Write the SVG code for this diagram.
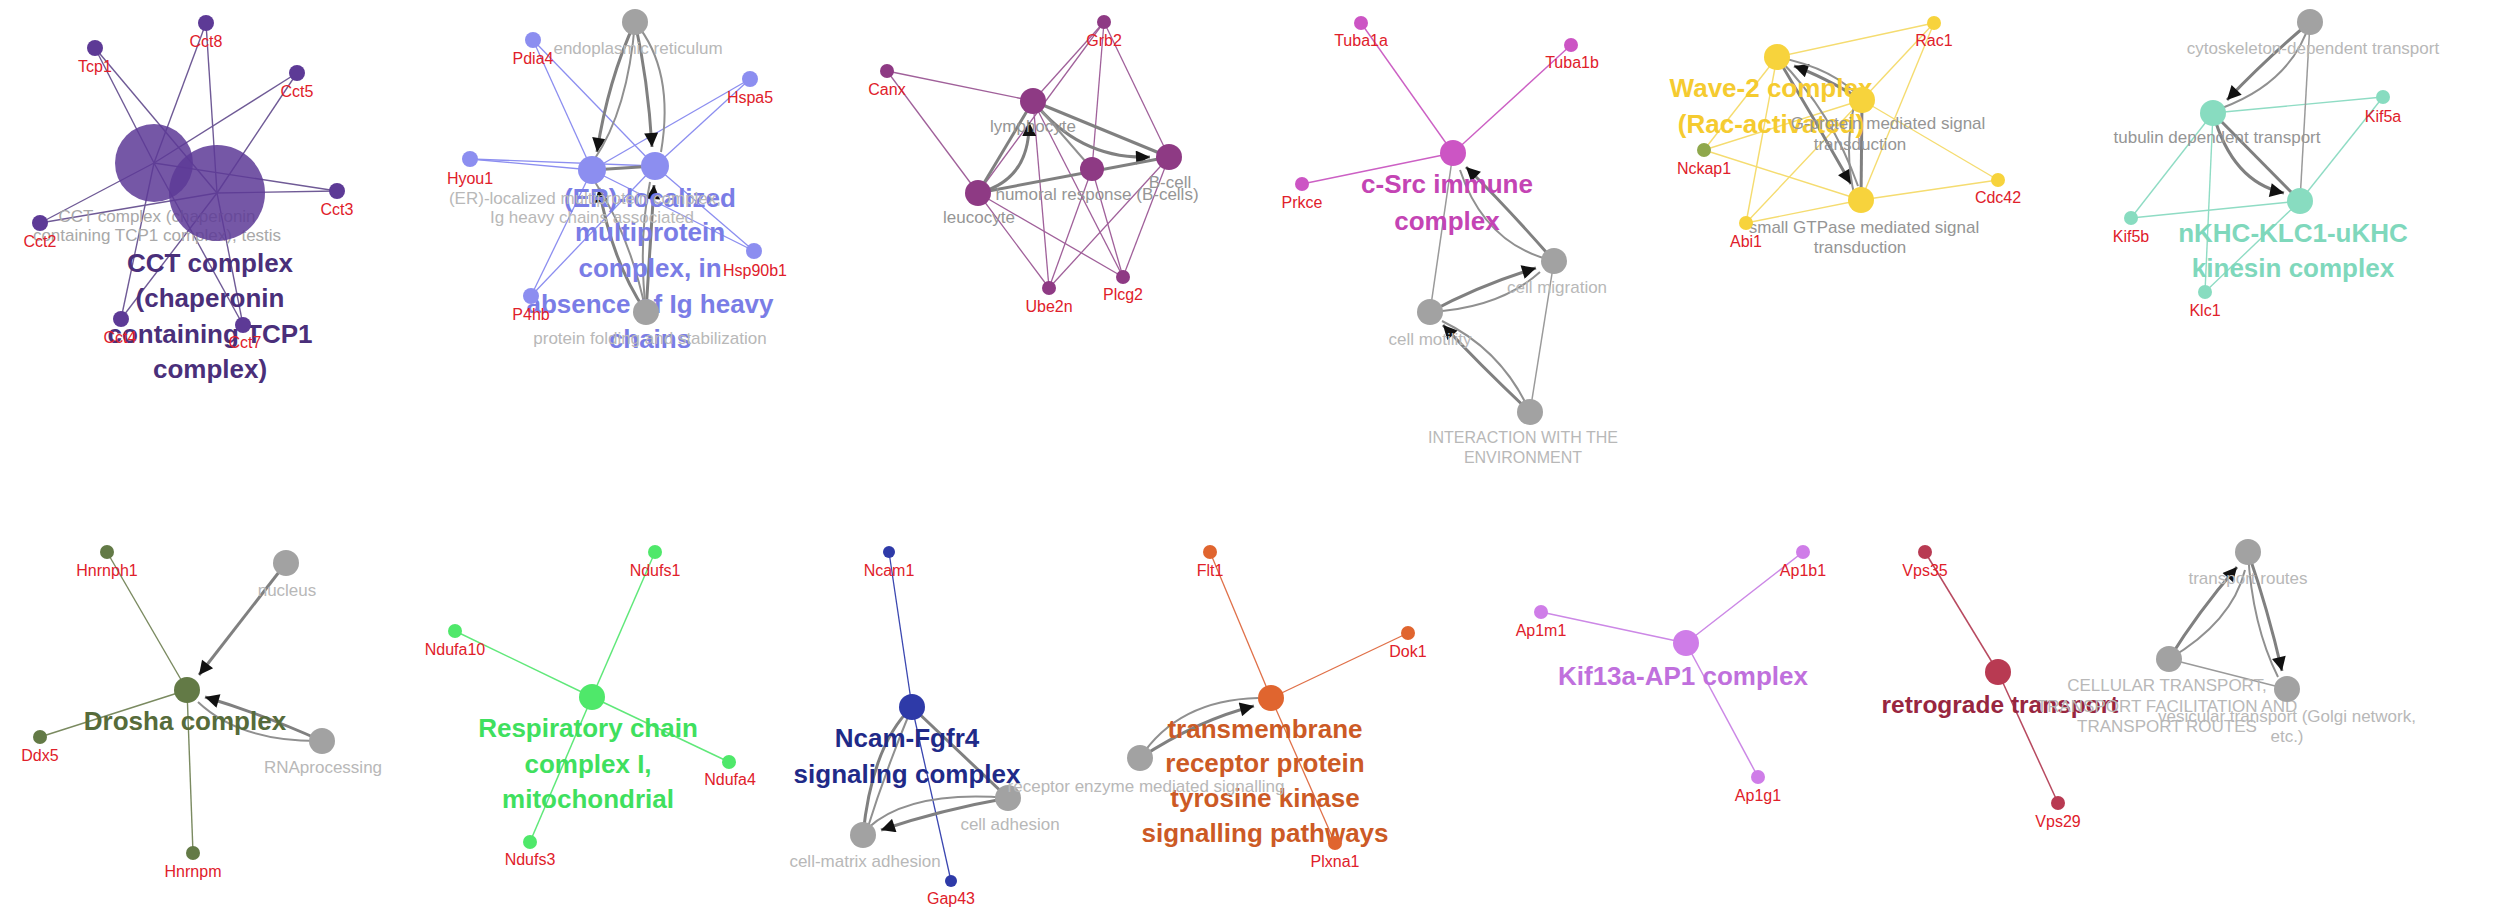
<svg xmlns="http://www.w3.org/2000/svg" width="2496" height="916" viewBox="0 0 2496 916">
<defs>
<marker id="arr" viewBox="0 0 10 10" refX="10" refY="5" markerWidth="16" markerHeight="14" markerUnits="userSpaceOnUse" orient="auto"><path d="M0,0 L10,5 L0,10 z" fill="#111"/></marker>
</defs>
<style>
text{font-family:"Liberation Sans",Arial,sans-serif;text-anchor:middle}
.g{font-size:16px;fill:#e0202a}
.t{font-size:17px;fill:#b8b8b8}
.td{font-size:17px;fill:#959595}
.big{font-size:26px;font-weight:bold}
.gn{fill:#a2a2a2}
.ea{stroke:#808080;stroke-width:3;fill:none}
.ec{stroke:#909090;stroke-width:2;fill:none}
.et{stroke:#9a9a9a;stroke-width:1.5;fill:none}
.p1 line{stroke:#6f5a96;stroke-width:1.4}
.p2 line{stroke:#8c8ef0;stroke-width:1.3}
.p3 line{stroke:#a0609a;stroke-width:1.3}
.p4 line{stroke:#cc60c4;stroke-width:1.4}
.p5 line{stroke:#f5dc70;stroke-width:1.4}
.p6 line{stroke:#8fdcc4;stroke-width:1.4}
.p7 line{stroke:#7a8a60;stroke-width:1.4}
.p8 line{stroke:#60e87a;stroke-width:1.5}
.p9 line{stroke:#3a46b0;stroke-width:1.3}
.p10 line{stroke:#e07048;stroke-width:1.3}
.p11 line{stroke:#cc88e6;stroke-width:1.5}
.p12 line{stroke:#b84a60;stroke-width:1.5}
</style>
<rect width="2496" height="916" fill="#fff"/>

<g id="connectors">
<!-- panel 1 -->
<g class="p1">
<line x1="95" y1="48" x2="154" y2="163"/><line x1="95" y1="48" x2="217" y2="193"/>
<line x1="206" y1="23" x2="154" y2="163"/><line x1="206" y1="23" x2="217" y2="193"/>
<line x1="297" y1="73" x2="154" y2="163"/><line x1="297" y1="73" x2="217" y2="193"/>
<line x1="337" y1="191" x2="154" y2="163"/><line x1="337" y1="191" x2="217" y2="193"/>
<line x1="40" y1="223" x2="154" y2="163"/><line x1="40" y1="223" x2="217" y2="193"/>
<line x1="121" y1="319" x2="154" y2="163"/><line x1="121" y1="319" x2="217" y2="193"/>
<line x1="243" y1="325" x2="154" y2="163"/><line x1="243" y1="325" x2="217" y2="193"/>
</g>
<!-- panel 2 -->
<g class="p2">
<line x1="533" y1="40" x2="592" y2="170"/><line x1="533" y1="40" x2="655" y2="166"/>
<line x1="750" y1="79" x2="592" y2="170"/><line x1="750" y1="79" x2="655" y2="166"/>
<line x1="470" y1="159" x2="592" y2="170"/><line x1="470" y1="159" x2="655" y2="166"/>
<line x1="754" y1="251" x2="592" y2="170"/><line x1="754" y1="251" x2="655" y2="166"/>
<line x1="531" y1="296" x2="592" y2="170"/><line x1="531" y1="296" x2="655" y2="166"/>
</g>
<path class="ea" d="M635,22 Q608,80 597,152" marker-end="url(#arr)"/>
<path class="ec" d="M635,22 Q628,110 594,160"/>
<path class="ea" d="M635,22 Q648,80 652,147" marker-end="url(#arr)"/>
<path class="ec" d="M635,22 Q675,70 661,152"/>
<path class="ea" d="M646,312 Q612,262 599,188" marker-end="url(#arr)"/>
<path class="ec" d="M646,312 Q630,235 595,182"/>
<path class="ea" d="M646,312 Q650,250 654,185" marker-end="url(#arr)"/>
<path class="ec" d="M646,312 Q638,240 650,182"/>
<path class="ea" d="M592,170 L655,166"/>
<!-- panel 3 -->
<g class="p3">
<line x1="887" y1="71" x2="1033" y2="101"/><line x1="887" y1="71" x2="978" y2="193"/>
<line x1="1104" y1="22" x2="1033" y2="101"/><line x1="1104" y1="22" x2="978" y2="193"/><line x1="1104" y1="22" x2="1092" y2="169"/><line x1="1104" y1="22" x2="1169" y2="157"/>
<line x1="1049" y1="288" x2="978" y2="193"/><line x1="1049" y1="288" x2="1033" y2="101"/><line x1="1049" y1="288" x2="1092" y2="169"/><line x1="1049" y1="288" x2="1169" y2="157"/>
<line x1="1123" y1="277" x2="978" y2="193"/><line x1="1123" y1="277" x2="1033" y2="101"/><line x1="1123" y1="277" x2="1092" y2="169"/><line x1="1123" y1="277" x2="1169" y2="157"/>
</g>
<path class="ea" d="M978,193 L1033,101"/>
<path class="ea" d="M978,193 Q1030,180 1029,122" marker-end="url(#arr)"/>
<path class="ea" d="M1033,101 L1169,157"/>
<path class="ea" d="M1033,101 Q1080,160 1150,157" marker-end="url(#arr)"/>
<path class="ea" d="M978,193 L1169,157"/>
<path class="ec" d="M1033,101 L1092,169"/>
<!-- panel 4 -->
<g class="p4">
<line x1="1361" y1="23" x2="1453" y2="153"/><line x1="1571" y1="45" x2="1453" y2="153"/><line x1="1302" y1="184" x2="1453" y2="153"/>
</g>
<path class="ea" d="M1554,261 Q1505,205 1466,167" marker-end="url(#arr)"/>
<path class="ec" d="M1554,261 Q1485,245 1460,170"/>
<path class="ea" d="M1430,312 Q1480,285 1536,268" marker-end="url(#arr)"/>
<path class="ec" d="M1430,312 Q1500,308 1540,272"/>
<path class="ea" d="M1530,412 Q1480,365 1443,325" marker-end="url(#arr)"/>
<path class="ec" d="M1530,412 Q1502,350 1442,321"/>
<path class="et" d="M1430,312 L1453,153"/>
<path class="et" d="M1530,412 L1554,261"/>
<!-- panel 5 -->
<g class="p5">
<line x1="1934" y1="23" x2="1777" y2="57"/><line x1="1934" y1="23" x2="1862" y2="100"/><line x1="1934" y1="23" x2="1861" y2="200"/>
<line x1="1704" y1="150" x2="1777" y2="57"/><line x1="1704" y1="150" x2="1862" y2="100"/><line x1="1704" y1="150" x2="1861" y2="200"/>
<line x1="1746" y1="223" x2="1777" y2="57"/><line x1="1746" y1="223" x2="1862" y2="100"/><line x1="1746" y1="223" x2="1861" y2="200"/>
<line x1="1998" y1="180" x2="1862" y2="100"/><line x1="1998" y1="180" x2="1861" y2="200"/>
</g>
<path class="ea" d="M1862,100 Q1822,76 1794,66" marker-end="url(#arr)"/>
<path class="ec" d="M1777,57 Q1835,68 1862,100"/>
<path class="ea" d="M1777,57 Q1815,120 1851,184" marker-end="url(#arr)"/>
<path class="ec" d="M1777,57 Q1832,112 1858,186"/>
<path class="ea" d="M1862,100 L1861,200"/>
<path class="ec" d="M1855,102 Q1843,150 1855,198"/>
<!-- panel 6 -->
<g class="p6">
<line x1="2383" y1="97" x2="2213" y2="113"/><line x1="2383" y1="97" x2="2300" y2="201"/>
<line x1="2131" y1="218" x2="2213" y2="113"/><line x1="2131" y1="218" x2="2300" y2="201"/>
<line x1="2205" y1="292" x2="2213" y2="113"/><line x1="2205" y1="292" x2="2300" y2="201"/>
</g>
<path class="ea" d="M2310,22 Q2265,60 2227,100" marker-end="url(#arr)"/>
<path class="ec" d="M2310,22 Q2292,82 2222,108"/>
<path class="et" d="M2310,22 L2300,201"/>
<path class="ea" d="M2213,113 L2300,201"/>
<path class="ea" d="M2213,113 Q2232,182 2284,193" marker-end="url(#arr)"/>
<!-- panel 7 -->
<g class="p7">
<line x1="107" y1="552" x2="187" y2="690"/><line x1="40" y1="737" x2="187" y2="690"/><line x1="193" y1="853" x2="187" y2="690"/>
</g>
<path class="ea" d="M286,563 L199,675" marker-end="url(#arr)"/>
<path class="ea" d="M322,741 Q262,714 205,697" marker-end="url(#arr)"/>
<path class="ec" d="M322,741 Q240,742 198,702"/>
<!-- panel 8 -->
<g class="p8">
<line x1="655" y1="552" x2="592" y2="697"/><line x1="455" y1="631" x2="592" y2="697"/><line x1="729" y1="762" x2="592" y2="697"/><line x1="530" y1="842" x2="592" y2="697"/>
</g>
<!-- panel 9 -->
<g class="p9">
<line x1="889" y1="552" x2="912" y2="707"/><line x1="951" y1="881" x2="912" y2="707"/>
</g>
<path class="ea" d="M912,707 Q872,745 863,835"/>
<path class="ec" d="M912,707 Q885,772 866,833"/>
<path class="ea" d="M912,707 L1008,798"/>
<path class="ea" d="M1008,798 Q940,810 881,830" marker-end="url(#arr)"/>
<path class="ec" d="M1008,798 Q910,790 868,828"/>
<!-- panel 10 -->
<g class="p10">
<line x1="1210" y1="552" x2="1271" y2="698"/><line x1="1408" y1="633" x2="1271" y2="698"/><line x1="1335" y1="843" x2="1271" y2="698"/>
</g>
<path class="ea" d="M1140,758 Q1198,720 1254,706" marker-end="url(#arr)"/>
<path class="ec" d="M1140,758 Q1178,700 1258,698"/>
<!-- panel 11 -->
<g class="p11">
<line x1="1803" y1="552" x2="1686" y2="643"/><line x1="1541" y1="612" x2="1686" y2="643"/><line x1="1758" y1="777" x2="1686" y2="643"/>
</g>
<!-- panel 12 -->
<g class="p12">
<line x1="1925" y1="552" x2="1998" y2="672"/><line x1="2058" y1="803" x2="1998" y2="672"/>
</g>
<path class="ea" d="M2169,659 Q2198,612 2237,567" marker-end="url(#arr)"/>
<path class="ec" d="M2169,659 Q2232,622 2245,570"/>
<path class="ea" d="M2248,552 Q2268,610 2282,671" marker-end="url(#arr)"/>
<path class="ec" d="M2248,552 Q2252,625 2278,677"/>
<path class="et" d="M2169,659 L2287,689"/>
</g>

<!-- big cluster labels -->
<g id="cluster-labels">
<text class="big" fill="#4a2f7a"><tspan x="210" y="272">CCT complex</tspan><tspan x="210" y="307">(chaperonin</tspan><tspan x="210" y="343">containing TCP1</tspan><tspan x="210" y="378">complex)</tspan></text>
<text class="big" fill="#7a7de6"><tspan x="650" y="207">(ER)-localized</tspan><tspan x="650" y="241">multiprotein</tspan><tspan x="650" y="277">complex, in</tspan><tspan x="650" y="313">absence of Ig heavy</tspan><tspan x="650" y="348">chains</tspan></text>
<text class="big" fill="#c444b4"><tspan x="1447" y="193">c-Src immune</tspan><tspan x="1447" y="230">complex</tspan></text>
<text class="big" fill="#f5cb30"><tspan x="1771" y="97">Wave-2 complex</tspan><tspan x="1771" y="133">(Rac-activated)</tspan></text>
<text class="big" fill="#7fd8bc"><tspan x="2293" y="242">nKHC-KLC1-uKHC</tspan><tspan x="2293" y="277">kinesin complex</tspan></text>
<text class="big" fill="#566b3a" x="185" y="730">Drosha complex</text>
<text class="big" fill="#3fe05e"><tspan x="588" y="737">Respiratory chain</tspan><tspan x="588" y="773">complex I,</tspan><tspan x="588" y="808">mitochondrial</tspan></text>
<text class="big" fill="#1f2a88"><tspan x="907" y="747">Ncam-Fgfr4</tspan><tspan x="907" y="783">signaling complex</tspan></text>
<text class="big" fill="#cc5a25"><tspan x="1265" y="738">transmembrane</tspan><tspan x="1265" y="772">receptor protein</tspan><tspan x="1265" y="807">tyrosine kinase</tspan><tspan x="1265" y="842">signalling pathways</tspan></text>
<text class="big" fill="#c070dd" x="1683" y="685">Kif13a-AP1 complex</text>
<text class="big" fill="#98263f" x="2000" y="713" style="font-size:24.5px">retrograde transport</text>
</g>

<!-- panel 1 nodes -->
<g id="n-cct-testis"><circle cx="154" cy="163" r="39" fill="#5d3a96" fill-opacity="0.85"/><text class="t" style="fill:#a8a8a8"><tspan x="157" y="222">CCT complex (chaperonin</tspan><tspan x="157" y="241">containing TCP1 complex), testis</tspan></text></g>
<g id="n-cct"><circle cx="217" cy="193" r="48" fill="#5d3a96" fill-opacity="0.85"/></g>
<g id="n-Tcp1"><circle cx="95" cy="48" r="8" fill="#5d3a96"/><text class="g" x="95" y="72">Tcp1</text></g>
<g id="n-Cct8"><circle cx="206" cy="23" r="8" fill="#5d3a96"/><text class="g" x="206" y="47">Cct8</text></g>
<g id="n-Cct5"><circle cx="297" cy="73" r="8" fill="#5d3a96"/><text class="g" x="297" y="97">Cct5</text></g>
<g id="n-Cct3"><circle cx="337" cy="191" r="8" fill="#5d3a96"/><text class="g" x="337" y="215">Cct3</text></g>
<g id="n-Cct2"><circle cx="40" cy="223" r="8" fill="#5d3a96"/><text class="g" x="40" y="247">Cct2</text></g>
<g id="n-Cct4"><circle cx="121" cy="319" r="8" fill="#5d3a96"/><text class="g" x="120" y="343">Cct4</text></g>
<g id="n-Cct7"><circle cx="243" cy="325" r="8" fill="#5d3a96"/><text class="g" x="245" y="348">Cct7</text></g>

<!-- panel 2 nodes -->
<g id="n-er"><circle class="gn" cx="635" cy="22" r="13"/><text class="t" x="638" y="54">endoplasmic reticulum</text></g>
<g id="n-er-assoc"><circle cx="592" cy="170" r="14" fill="#8c8ef0"/><text class="t"><tspan x="585" y="204">(ER)-localized multiprotein complex,</tspan><tspan x="592" y="223">Ig heavy chains associated</tspan></text></g>
<g id="n-er-absence"><circle cx="655" cy="166" r="14" fill="#8c8ef0"/></g>
<g id="n-pfs"><circle class="gn" cx="646" cy="312" r="13"/><text class="t" x="650" y="344">protein folding and stabilization</text></g>
<g id="n-Pdia4"><circle cx="533" cy="40" r="8" fill="#8c8ef0"/><text class="g" x="533" y="64">Pdia4</text></g>
<g id="n-Hspa5"><circle cx="750" cy="79" r="8" fill="#8c8ef0"/><text class="g" x="750" y="103">Hspa5</text></g>
<g id="n-Hyou1"><circle cx="470" cy="159" r="8" fill="#8c8ef0"/><text class="g" x="470" y="184">Hyou1</text></g>
<g id="n-Hsp90b1"><circle cx="754" cy="251" r="8" fill="#8c8ef0"/><text class="g" x="755" y="276">Hsp90b1</text></g>
<g id="n-P4hb"><circle cx="531" cy="296" r="8" fill="#8c8ef0"/><text class="g" x="531" y="320">P4hb</text></g>

<!-- panel 3 nodes -->
<g id="n-lym"><circle cx="1033" cy="101" r="13" fill="#8e3a84"/><text class="td" x="1033" y="132">lymphocyte</text></g>
<g id="n-leu"><circle cx="978" cy="193" r="13" fill="#8e3a84"/><text class="td" x="979" y="223">leucocyte</text></g>
<g id="n-hum"><circle cx="1092" cy="169" r="12" fill="#8e3a84"/><text class="td" x="1097" y="200">humoral response (B-cells)</text></g>
<g id="n-bcell"><circle cx="1169" cy="157" r="13" fill="#8e3a84"/><text class="td" x="1170" y="188">B-cell</text></g>
<g id="n-Grb2"><circle cx="1104" cy="22" r="7" fill="#8e3a84"/><text class="g" x="1104" y="46">Grb2</text></g>
<g id="n-Canx"><circle cx="887" cy="71" r="7" fill="#8e3a84"/><text class="g" x="887" y="95">Canx</text></g>
<g id="n-Ube2n"><circle cx="1049" cy="288" r="7" fill="#8e3a84"/><text class="g" x="1049" y="312">Ube2n</text></g>
<g id="n-Plcg2"><circle cx="1123" cy="277" r="7" fill="#8e3a84"/><text class="g" x="1123" y="300">Plcg2</text></g>

<!-- panel 4 nodes -->
<g id="n-csrc"><circle cx="1453" cy="153" r="13" fill="#cc55c4"/></g>
<g id="n-mig"><circle class="gn" cx="1554" cy="261" r="13"/><text class="t" x="1557" y="293">cell migration</text></g>
<g id="n-mot"><circle class="gn" cx="1430" cy="312" r="13"/><text class="t" x="1430" y="345">cell motility</text></g>
<g id="n-int"><circle class="gn" cx="1530" cy="412" r="13"/><text class="t" style="font-size:16px"><tspan x="1523" y="443">INTERACTION WITH THE</tspan><tspan x="1523" y="463">ENVIRONMENT</tspan></text></g>
<g id="n-Tuba1a"><circle cx="1361" cy="23" r="7" fill="#cc55c4"/><text class="g" x="1361" y="46">Tuba1a</text></g>
<g id="n-Tuba1b"><circle cx="1571" cy="45" r="7" fill="#cc55c4"/><text class="g" x="1572" y="68">Tuba1b</text></g>
<g id="n-Prkce"><circle cx="1302" cy="184" r="7" fill="#cc55c4"/><text class="g" x="1302" y="208">Prkce</text></g>

<!-- panel 5 nodes -->
<g id="n-wave2"><circle cx="1777" cy="57" r="13" fill="#f7d33c"/></g>
<g id="n-gprot"><circle cx="1862" cy="100" r="13" fill="#f7d33c"/><text class="td"><tspan x="1888" y="129">G-protein mediated signal</tspan><tspan x="1860" y="150">transduction</tspan></text></g>
<g id="n-gtpase"><circle cx="1861" cy="200" r="13" fill="#f7d33c"/><text class="td"><tspan x="1864" y="233">small GTPase mediated signal</tspan><tspan x="1860" y="253">transduction</tspan></text></g>
<g id="n-Rac1"><circle cx="1934" cy="23" r="7" fill="#f7d33c"/><text class="g" x="1934" y="46">Rac1</text></g>
<g id="n-Nckap1"><circle cx="1704" cy="150" r="7" fill="#8fa84c"/><text class="g" x="1704" y="174">Nckap1</text></g>
<g id="n-Abi1"><circle cx="1746" cy="223" r="7" fill="#f7d33c"/><text class="g" x="1746" y="247">Abi1</text></g>
<g id="n-Cdc42"><circle cx="1998" cy="180" r="7" fill="#f7d33c"/><text class="g" x="1998" y="203">Cdc42</text></g>

<!-- panel 6 nodes -->
<g id="n-cyto"><circle class="gn" cx="2310" cy="22" r="13"/><text class="t" x="2313" y="54">cytoskeleton-dependent transport</text></g>
<g id="n-tub"><circle cx="2213" cy="113" r="13" fill="#88dcc0"/><text class="td" x="2217" y="143">tubulin dependent transport</text></g>
<g id="n-nkhc"><circle cx="2300" cy="201" r="13" fill="#88dcc0"/></g>
<g id="n-Kif5a"><circle cx="2383" cy="97" r="7" fill="#88dcc0"/><text class="g" x="2383" y="122">Kif5a</text></g>
<g id="n-Kif5b"><circle cx="2131" cy="218" r="7" fill="#88dcc0"/><text class="g" x="2131" y="242">Kif5b</text></g>
<g id="n-Klc1"><circle cx="2205" cy="292" r="7" fill="#88dcc0"/><text class="g" x="2205" y="316">Klc1</text></g>

<!-- panel 7 nodes -->
<g id="n-drosha"><circle cx="187" cy="690" r="13" fill="#637a46"/></g>
<g id="n-nucleus"><circle class="gn" cx="286" cy="563" r="13"/><text class="t" x="287" y="596">nucleus</text></g>
<g id="n-rnaproc"><circle class="gn" cx="322" cy="741" r="13"/><text class="t" x="323" y="773">RNAprocessing</text></g>
<g id="n-Hnrnph1"><circle cx="107" cy="552" r="7" fill="#637a46"/><text class="g" x="107" y="576">Hnrnph1</text></g>
<g id="n-Ddx5"><circle cx="40" cy="737" r="7" fill="#637a46"/><text class="g" x="40" y="761">Ddx5</text></g>
<g id="n-Hnrnpm"><circle cx="193" cy="853" r="7" fill="#637a46"/><text class="g" x="193" y="877">Hnrnpm</text></g>

<!-- panel 8 nodes -->
<g id="n-resp"><circle cx="592" cy="697" r="13" fill="#4fe86a"/></g>
<g id="n-Ndufs1"><circle cx="655" cy="552" r="7" fill="#4fe86a"/><text class="g" x="655" y="576">Ndufs1</text></g>
<g id="n-Ndufa10"><circle cx="455" cy="631" r="7" fill="#4fe86a"/><text class="g" x="455" y="655">Ndufa10</text></g>
<g id="n-Ndufa4"><circle cx="729" cy="762" r="7" fill="#4fe86a"/><text class="g" x="730" y="785">Ndufa4</text></g>
<g id="n-Ndufs3"><circle cx="530" cy="842" r="7" fill="#4fe86a"/><text class="g" x="530" y="865">Ndufs3</text></g>

<!-- panel 9 nodes -->
<g id="n-ncam"><circle cx="912" cy="707" r="13" fill="#2e3aa8"/></g>
<g id="n-celladh"><circle class="gn" cx="1008" cy="798" r="13"/><text class="t" x="1010" y="830">cell adhesion</text></g>
<g id="n-cma"><circle class="gn" cx="863" cy="835" r="13"/><text class="t" x="865" y="867">cell-matrix adhesion</text></g>
<g id="n-Ncam1"><circle cx="889" cy="552" r="6" fill="#2e3aa8"/><text class="g" x="889" y="576">Ncam1</text></g>
<g id="n-Gap43"><circle cx="951" cy="881" r="6" fill="#2e3aa8"/><text class="g" x="951" y="904">Gap43</text></g>

<!-- panel 10 nodes -->
<g id="n-res"><circle class="gn" cx="1140" cy="758" r="13"/><text class="t" x="1146" y="792">receptor enzyme mediated signalling</text></g>
<g id="n-tm"><circle cx="1271" cy="698" r="13" fill="#e0652f"/></g>
<g id="n-Flt1"><circle cx="1210" cy="552" r="7" fill="#e0652f"/><text class="g" x="1210" y="576">Flt1</text></g>
<g id="n-Dok1"><circle cx="1408" cy="633" r="7" fill="#e0652f"/><text class="g" x="1408" y="657">Dok1</text></g>
<g id="n-Plxna1"><circle cx="1335" cy="843" r="7" fill="#e0652f"/><text class="g" x="1335" y="867">Plxna1</text></g>

<!-- panel 11 nodes -->
<g id="n-kif13a"><circle cx="1686" cy="643" r="13" fill="#cf7de8"/></g>
<g id="n-Ap1b1"><circle cx="1803" cy="552" r="7" fill="#cf7de8"/><text class="g" x="1803" y="576">Ap1b1</text></g>
<g id="n-Ap1m1"><circle cx="1541" cy="612" r="7" fill="#cf7de8"/><text class="g" x="1541" y="636">Ap1m1</text></g>
<g id="n-Ap1g1"><circle cx="1758" cy="777" r="7" fill="#cf7de8"/><text class="g" x="1758" y="801">Ap1g1</text></g>

<!-- panel 12 nodes -->
<g id="n-retro"><circle cx="1998" cy="672" r="13" fill="#b83a52"/></g>
<g id="n-Vps35"><circle cx="1925" cy="552" r="7" fill="#b83a52"/><text class="g" x="1925" y="576">Vps35</text></g>
<g id="n-Vps29"><circle cx="2058" cy="803" r="7" fill="#b83a52"/><text class="g" x="2058" y="827">Vps29</text></g>
<g id="n-troutes"><circle class="gn" cx="2248" cy="552" r="13"/><text class="t" x="2248" y="584">transport routes</text></g>
<g id="n-celltrans"><circle class="gn" cx="2169" cy="659" r="13"/><text class="t"><tspan x="2167" y="691">CELLULAR TRANSPORT,</tspan><tspan x="2167" y="712">TRANSPORT FACILITATION AND</tspan><tspan x="2167" y="732">TRANSPORT ROUTES</tspan></text></g>
<g id="n-vesic"><circle class="gn" cx="2287" cy="689" r="13"/><text class="t"><tspan x="2287" y="722">vesicular transport (Golgi network,</tspan><tspan x="2287" y="742">etc.)</tspan></text></g>
</svg>
